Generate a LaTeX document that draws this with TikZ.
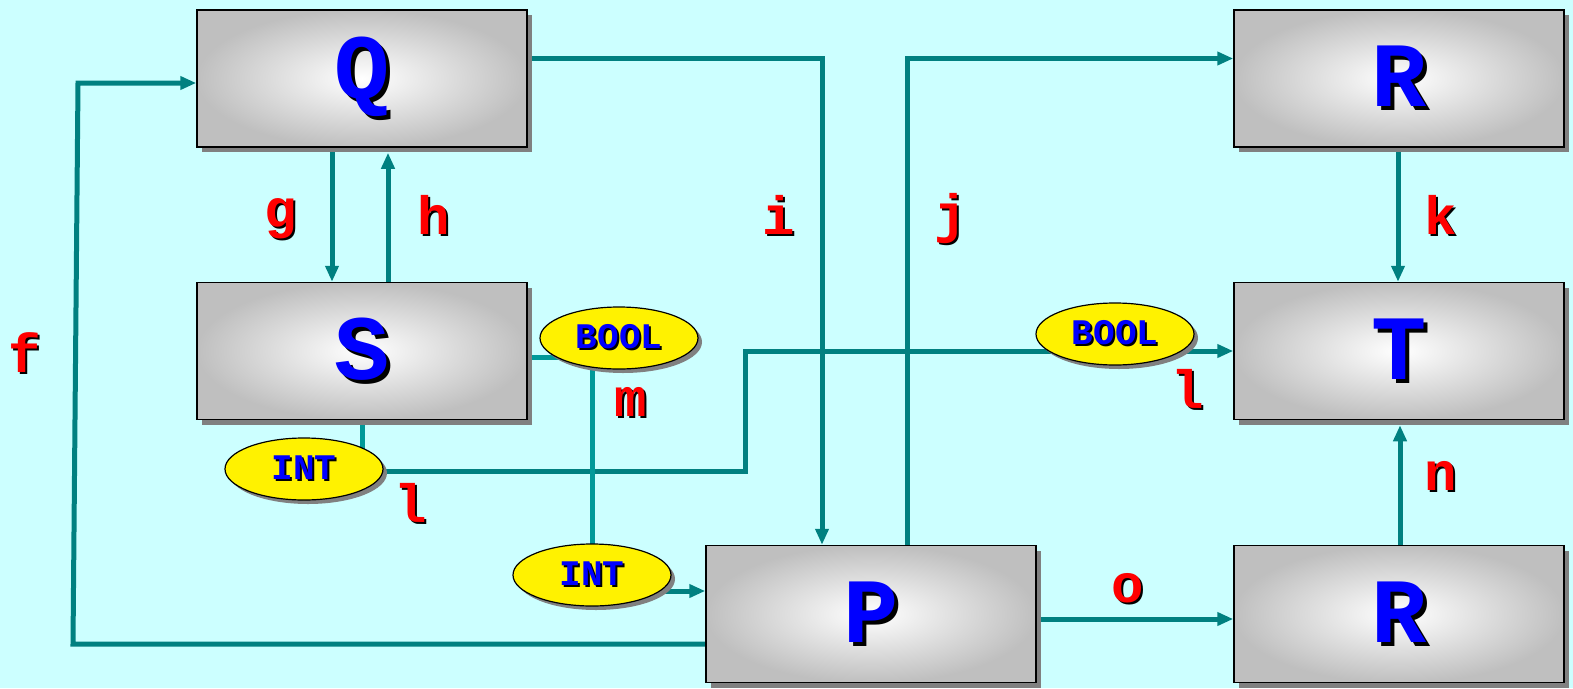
\documentclass[tikz,border=0pt]{standalone}
\usepackage{fontspec}
\setmainfont{Liberation Mono}
\usetikzlibrary{arrows.meta,shadows,shapes.geometric}
\definecolor{bgcyan}{RGB}{204,255,255}
\definecolor{wireteal}{RGB}{0,128,128}
\definecolor{wirelight}{RGB}{0,153,153}
\definecolor{lblred}{RGB}{255,0,0}
\definecolor{txtblue}{RGB}{0,0,255}
\newcommand{\shadowtxt}[3]{\rlap{\kern#1\raisebox{-#1}{\color{black}#3}}{\color{#2}#3}}
\pgfdeclarelayer{back}
\pgfdeclarelayer{wires}
\pgfsetlayers{back,wires,main}

\begin{document}
\begin{tikzpicture}[x=1pt, y=-1pt,
    block/.style={draw=black, line width=1.5pt, minimum width=330pt, minimum height=137pt,
      inner sep=0pt, inner color=white, outer color=gray!50,
      drop shadow={shadow xshift=5pt, shadow yshift=-5pt, fill=gray, opacity=1},
      font=\bfseries\fontsize{92}{92}\selectfont},
    tag/.style={ellipse, draw=black, line width=1.2pt, fill=yellow, minimum width=158pt,
      minimum height=62pt, inner sep=0pt,
      drop shadow={shadow xshift=4pt, shadow yshift=-4pt, fill=gray, opacity=1},
      font=\bfseries\fontsize{36}{36}\selectfont},
    lbl/.style={inner sep=0pt, font=\bfseries\fontsize{54}{54}\selectfont},
    wire/.style={draw=wireteal, line width=5pt},
    wirelt/.style={draw=wirelight, line width=5pt},
    arr/.style={wire, -{Triangle[length=16pt, width=13pt]}}]
  \useasboundingbox (0,0) rectangle (1573,688);
  \begin{pgfonlayer}{back}
    \fill[bgcyan] (0,0) rectangle (1573,688);
  \end{pgfonlayer}

  % blocks
  \node[block] (boxQ) at (362,78.5) {\shadowtxt{4pt}{txtblue}{Q}};
  \node[block] (boxS) at (362,351) {\shadowtxt{4pt}{txtblue}{S}};
  \node[block] (boxRt) at (1399,78.5) {\shadowtxt{4pt}{txtblue}{R}};
  \node[block] (boxT) at (1399,351) {\shadowtxt{4pt}{txtblue}{T}};
  \node[block] (boxP) at (871,614) {\shadowtxt{4pt}{txtblue}{P}};
  \node[block] (boxRb) at (1399,614) {\shadowtxt{4pt}{txtblue}{R}};

  % type tags
  \node[tag] (intS) at (304,469) {\shadowtxt{2pt}{txtblue}{INT}};
  \node[tag] (boolS) at (619,338) {\shadowtxt{2pt}{txtblue}{BOOL}};
  \node[tag] (intP) at (592,575) {\shadowtxt{2pt}{txtblue}{INT}};
  \node[tag] (boolT) at (1115,334) {\shadowtxt{2pt}{txtblue}{BOOL}};

  % labels
  \node[lbl] (lblf) at (25,354) {\shadowtxt{2pt}{lblred}{f}};
  \node[lbl] (lblg) at (281,220) {\shadowtxt{2pt}{lblred}{g}};
  \node[lbl] (lblh) at (434,216) {\shadowtxt{2pt}{lblred}{h}};
  \node[lbl] (lbli) at (779,216) {\shadowtxt{2pt}{lblred}{i}};
  \node[lbl] (lblj) at (951,220) {\shadowtxt{2pt}{lblred}{j}};
  \node[lbl] (lblk) at (1441,216) {\shadowtxt{2pt}{lblred}{k}};
  \node[lbl] (lblm) at (631,403) {\shadowtxt{2pt}{lblred}{m}};
  \node[lbl] (lbll) at (411,504) {\shadowtxt{2pt}{lblred}{l}};
  \node[lbl] (lbllt) at (1188,390) {\shadowtxt{2pt}{lblred}{l}};
  \node[lbl] (lbln) at (1441,477) {\shadowtxt{2pt}{lblred}{n}};
  \node[lbl] (lblo) at (1128,589) {\shadowtxt{2pt}{lblred}{o}};

  % connectors
  \coordinate (fbot) at (73,644);
  \coordinate (ftop) at (78,83);
  \coordinate (lbend) at (745,471);
  \coordinate (mout) at ([yshift=-6pt]boxS.east);
  \coordinate (pin) at ([yshift=-16pt]intP.center);
  \begin{pgfonlayer}{wires}
    \draw[arr] (fbot -| boxP.west) -- (fbot) -- (ftop) -- (ftop -| boxQ.west);
    \draw[arr] ([xshift=-30pt]boxQ.south) -- ([xshift=-30pt]boxS.north);
    \draw[arr] ([xshift=26pt]boxS.north) -- ([xshift=26pt,yshift=-5pt]boxQ.south);
    \draw[arr] ([yshift=20pt]boxQ.east) -| ([xshift=-49pt]boxP.north);
    \draw[arr] ([xshift=36pt]boxP.north) |- ([yshift=20pt]boxRt.west);
    \draw[arr] ([xshift=-1pt]boxRt.south) -- ([xshift=-1pt]boxT.north);
    \draw[arr] ([xshift=1pt]boxRb.north) -- ([xshift=1pt,yshift=-5pt]boxT.south);
    \draw[arr] ([yshift=-5pt]boxP.east) -- ([yshift=-5pt]boxRb.west);
    \draw[wirelt] (boxS.south) -- (boxS.south |- intS.center);
    \draw[arr] (intS.center |- lbend) -- (lbend) |- (boxT.west);
    \draw[wirelt] (mout) -- (mout -| boolS.center);
    \draw[wirelt] (boolS.center -| intP.center) -- (intP.center);
    \draw[arr] (pin) -- (pin -| boxP.west);
  \end{pgfonlayer}
\end{tikzpicture}
\end{document}
